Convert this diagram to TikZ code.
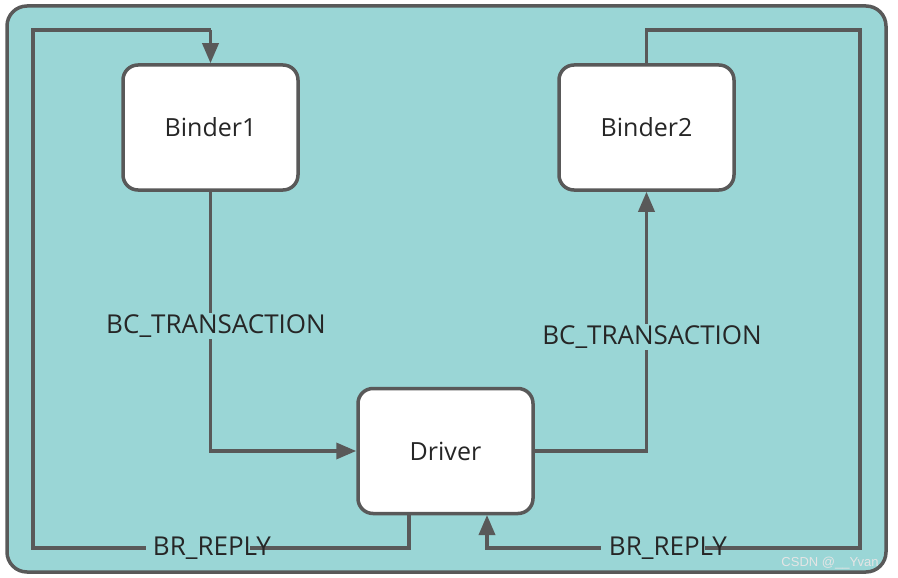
\documentclass[tikz,border=0pt]{standalone}
\usepackage{fontspec}
\setmainfont{Open Sans}
\newfontfamily\wmfont{Liberation Sans}
\usetikzlibrary{arrows.meta}
\definecolor{bgteal}{HTML}{9AD6D6}
\definecolor{edgegray}{HTML}{595959}
\definecolor{txtgray}{HTML}{262626}
\tikzset{
  box/.style={draw=edgegray, line width=3.5pt, fill=white, rounded corners=15pt,
    minimum width=175pt, minimum height=125pt, font=\fontsize{25}{30}\selectfont, text=txtgray},
  conn/.style={draw=edgegray, line width=3.5pt},
  arr/.style={conn, -{Triangle[length=20pt,width=16pt]}},
  lbl/.style={fill=bgteal, inner xsep=3pt, inner ysep=2pt, font=\fontsize{26}{30}\selectfont, text=txtgray},
  rlbl/.style={inner sep=0pt, font=\fontsize{26}{30}\selectfont, text=txtgray}
}
\begin{document}
\begin{tikzpicture}[x=1pt,y=-1pt]
\useasboundingbox (0,0) rectangle (898,578);
\draw[draw=edgegray, line width=3.5pt, fill=bgteal, rounded corners=20pt] (7,6) rectangle (886,572);
\node[box] (b1) at (210.5,127.5) {Binder1};
\node[box] (b2) at (646.5,127.5) {Binder2};
\node[box] (drv) at (445.5,451) {Driver};
% Binder1 -> Driver
\coordinate (c1) at (210.5,451);
\draw[arr] (b1.south) -- (c1) -- (drv.west);
\node[lbl] (l1) at (216,326) {BC\_TRANSACTION};
% Driver -> Binder2
\coordinate (c2) at (646.5,451);
\draw[arr] (drv.east) -- (c2) -- (b2.south);
\node[lbl] (l2) at (652,337) {BC\_TRANSACTION};
% BR_REPLY left: Driver -> Binder1
\coordinate (d1) at (409,515);
\coordinate (d2) at (409,548);
\coordinate (d3) at (33,548);
\coordinate (d4) at (33,30);
\coordinate (d5) at (210.5,30);
\draw[conn] (d1) -- (d2) -- (d3) -- (d4) -- (d5);
\draw[arr] (d5) -- (b1.north);
% BR_REPLY right: Binder2 -> Driver
\coordinate (e1) at (646.5,30);
\coordinate (e2) at (860,30);
\coordinate (e3) at (860,548);
\coordinate (e4) at (487,548);
\coordinate (e5) at (487,515);
\draw[arr] (b2.north) -- (e1) -- (e2) -- (e3) -- (e4) -- (e5);
% labels on the bottom lines
\fill[bgteal] (146,542) rectangle (250,555);
\node[rlbl] (l3) at (212,548) {BR\_REPLY};
\fill[bgteal] (601,542) rectangle (705,555);
\node[rlbl] (l4) at (668,548) {BR\_REPLY};
% watermark
\node[font=\wmfont\fontsize{13}{14}\selectfont, text=gray!20!white, inner sep=0pt] (wm) at (830,563) {CSDN @\_\_Yvan};
\end{tikzpicture}
\end{document}
